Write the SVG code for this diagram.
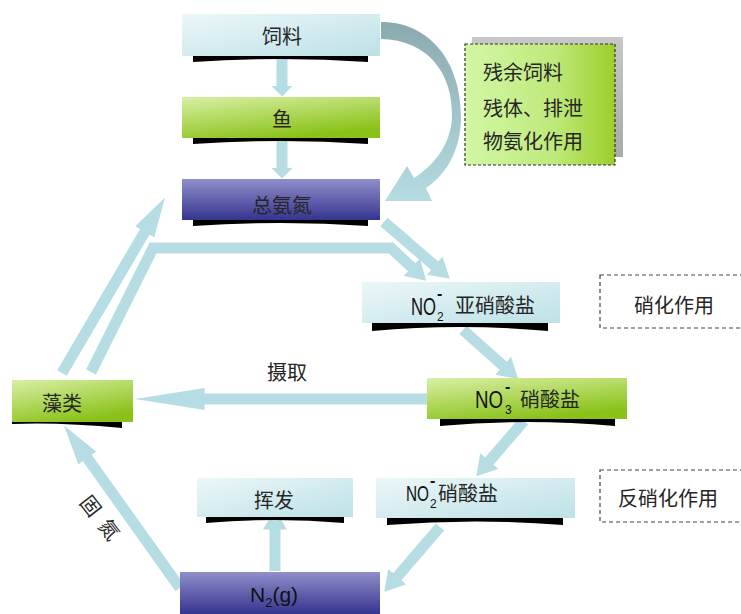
<svg xmlns="http://www.w3.org/2000/svg" width="741" height="614" viewBox="0 0 741 614">
<style>
.zh{font-family:"Noto Sans CJK SC","Noto Sans",sans-serif;fill:#262626;font-size:20px}
.en{font-family:"Liberation Sans",Arial,sans-serif;fill:#111}
.shaft{fill:none;stroke:#b6dde3;stroke-width:11;stroke-linejoin:miter}
.bar{fill:#000}
.dash{fill:#fff;stroke:#444;stroke-width:1.2;stroke-dasharray:4 3}
</style>
<defs>
<linearGradient id="gb" x1="0" y1="0" x2="1" y2="1"><stop offset="0" stop-color="#ecf7f9"/><stop offset="1" stop-color="#bde1e6"/></linearGradient>
<linearGradient id="gg" x1="0" y1="0" x2="0.5" y2="1"><stop offset="0" stop-color="#d9f0a6"/><stop offset="1" stop-color="#8bc21a"/></linearGradient>
<linearGradient id="gp" x1="0" y1="0" x2="0" y2="1"><stop offset="0" stop-color="#908fca"/><stop offset="1" stop-color="#35348f"/></linearGradient>
<linearGradient id="gl" x1="0" y1="0" x2="1" y2="0"><stop offset="0" stop-color="#d2f7a6"/><stop offset="0.6" stop-color="#bfe97a"/><stop offset="1" stop-color="#9ccf2a"/></linearGradient>
<linearGradient id="gs" x1="0" y1="0" x2="0" y2="1"><stop offset="0" stop-color="#c8c8c8"/><stop offset="1" stop-color="#aaaaaa"/></linearGradient>
<linearGradient id="gc" gradientUnits="userSpaceOnUse" x1="0" y1="20" x2="0" y2="205"><stop offset="0" stop-color="#8aa9ae"/><stop offset="0.45" stop-color="#9dc1c6"/><stop offset="1" stop-color="#b6dde3"/></linearGradient>
<marker id="hs" markerUnits="userSpaceOnUse" viewBox="0 0 11 22" markerWidth="11" markerHeight="22" refX="0.5" refY="11" orient="auto"><path d="M0,0 L11,11 L0,22 Z" fill="#b6dde3"/></marker>
<marker id="hm" markerUnits="userSpaceOnUse" viewBox="0 0 20 24" markerWidth="20" markerHeight="24" refX="0.5" refY="12" orient="auto"><path d="M0,0 L20,12 L0,24 Z" fill="#b6dde3"/></marker>
<marker id="hl" markerUnits="userSpaceOnUse" viewBox="0 0 40 22" markerWidth="40" markerHeight="22" refX="0.5" refY="11" orient="auto"><path d="M0,0 L40,11 L0,22 Z" fill="#b6dde3"/></marker>
<marker id="hx" markerUnits="userSpaceOnUse" viewBox="0 0 70 22" markerWidth="70" markerHeight="22" refX="0.5" refY="11" orient="auto"><path d="M0,0 L70,11 L0,22 Z" fill="#b6dde3"/></marker>
</defs>

<g id="connectors">
<line class="shaft" x1="282" y1="58" x2="282" y2="86" marker-end="url(#hs)"/>
<line class="shaft" x1="282" y1="141" x2="282" y2="168" marker-end="url(#hs)"/>
<path d="M381,22 C430,22 461,62 461,117 C461,150 446,175 426,188 L432,201 L385,201 L407,166 L414,178 C433,166 451,145 452,117 C453,72 427,40 381,39 Z" fill="url(#gc)"/>
<line class="shaft" x1="384" y1="222" x2="435" y2="266" marker-end="url(#hm)"/>
<polyline class="shaft" points="91,372 153,248 391,248 412,267.5" marker-end="url(#hm)"/>
<line class="shaft" x1="62" y1="373" x2="145" y2="231.5" marker-end="url(#hl)"/>
<line class="shaft" x1="463" y1="330" x2="503.5" y2="366" marker-end="url(#hm)"/>
<line class="shaft" x1="524" y1="421" x2="489" y2="461.4" marker-end="url(#hm)"/>
<line class="shaft" x1="440" y1="527" x2="397" y2="577" marker-end="url(#hm)"/>
<line class="shaft" x1="275" y1="571" x2="275" y2="529" marker-end="url(#hm)"/>
<line class="shaft" x1="180" y1="588" x2="87" y2="457.6" marker-end="url(#hl)"/>
<line class="shaft" x1="427" y1="399" x2="204" y2="399" marker-end="url(#hx)"/>
<text class="zh" x="287" y="380" text-anchor="middle">摄取</text>
<text class="zh" font-size="18" transform="translate(104,521) rotate(52)" text-anchor="middle" dominant-baseline="central" letter-spacing="10">固氮</text>
</g>

<g id="feed">
<path class="bar" d="M193,56 L368,56 L368,62 Q281,56 193,62 Z"/>
<rect x="182" y="14" width="198" height="42" fill="url(#gb)"/>
<text class="zh" x="282" y="44" text-anchor="middle">饲料</text>
</g>
<g id="fish">
<path class="bar" d="M193,138 L368,138 L368,144 Q281,138 193,144 Z"/>
<rect x="182" y="97" width="198" height="41" fill="url(#gg)"/>
<text class="zh" x="282" y="127" text-anchor="middle">鱼</text>
</g>
<g id="tan">
<path class="bar" d="M193,220 L368,220 L368,226 Q281,220 193,226 Z"/>
<rect x="182" y="179" width="198" height="41" fill="url(#gp)"/>
<text class="zh" x="282" y="213" text-anchor="middle">总氨氮</text>
</g>
<g id="residue">
<rect x="472" y="37" width="151" height="120" fill="url(#gs)"/>
<rect x="465" y="44" width="150" height="121" fill="url(#gl)" stroke="#333" stroke-width="1.2" stroke-dasharray="3 2"/>
<text class="zh" x="483" y="80" font-size="21">残余饲料</text>
<text class="zh" x="483" y="116" font-size="21">残体、排泄</text>
<text class="zh" x="483" y="149" font-size="21">物氨化作用</text>
</g>
<g id="nitrite">
<path class="bar" d="M372,323 L548,323 L548,331 Q460,323 372,331 Z"/>
<rect x="362" y="282" width="198" height="41" fill="url(#gb)"/>
<text class="en" y="315"><tspan x="411" font-size="24" textLength="25" lengthAdjust="spacingAndGlyphs">NO</tspan><tspan x="437" y="321" font-size="12">2</tspan><tspan x="437" y="299" font-size="16" font-weight="bold">-</tspan><tspan class="zh" x="455" y="313">亚硝酸盐</tspan></text>
</g>
<g id="nitrification">
<rect class="dash" x="600" y="275" width="145" height="53"/>
<text class="zh" x="674" y="313" text-anchor="middle">硝化作用</text>
</g>
<g id="nitrate">
<path class="bar" d="M440,418 L615,418 L615,426 Q527,418 440,426 Z"/>
<rect x="427" y="378" width="200" height="41" fill="url(#gg)"/>
<text class="en" y="408"><tspan x="475" font-size="24" textLength="28" lengthAdjust="spacingAndGlyphs">NO</tspan><tspan x="505" y="414" font-size="12">3</tspan><tspan x="505" y="392" font-size="16" font-weight="bold">-</tspan><tspan class="zh" x="520" y="407">硝酸盐</tspan></text>
</g>
<g id="algae">
<path class="bar" d="M12,422 L122,422 L122,428 Q60,422 12,424 Z"/>
<rect x="12" y="380" width="121" height="42" fill="url(#gg)"/>
<text class="zh" x="62" y="411" text-anchor="middle">藻类</text>
</g>
<g id="nitrite2">
<path class="bar" d="M387,518 L563,518 L563,525 Q475,518 387,525 Z"/>
<rect x="376" y="478" width="199" height="40" fill="url(#gb)"/>
<text class="en" y="501"><tspan x="406" font-size="22" textLength="23" lengthAdjust="spacingAndGlyphs">NO</tspan><tspan x="430" y="508" font-size="12">2</tspan><tspan x="430" y="486" font-size="16" font-weight="bold">-</tspan><tspan class="zh" x="438" y="501" font-size="19">硝酸盐</tspan></text>
</g>
<g id="denitrification">
<rect class="dash" x="600" y="470" width="145" height="52"/>
<text class="zh" x="668" y="506" text-anchor="middle" font-size="21">反硝化作用</text>
</g>
<g id="volatile">
<path class="bar" d="M206,517 L344,517 L344,523 Q275,517 206,523 Z"/>
<rect x="197" y="478" width="156" height="39" fill="url(#gb)"/>
<text class="zh" x="274" y="508" text-anchor="middle">挥发</text>
</g>
<g id="n2">
<rect x="180" y="572" width="200" height="42" fill="url(#gp)"/>
<text class="en" x="250" y="602" font-size="21">N<tspan font-size="13" dy="5">2</tspan><tspan dy="-5">(g)</tspan></text>
</g>
</svg>
